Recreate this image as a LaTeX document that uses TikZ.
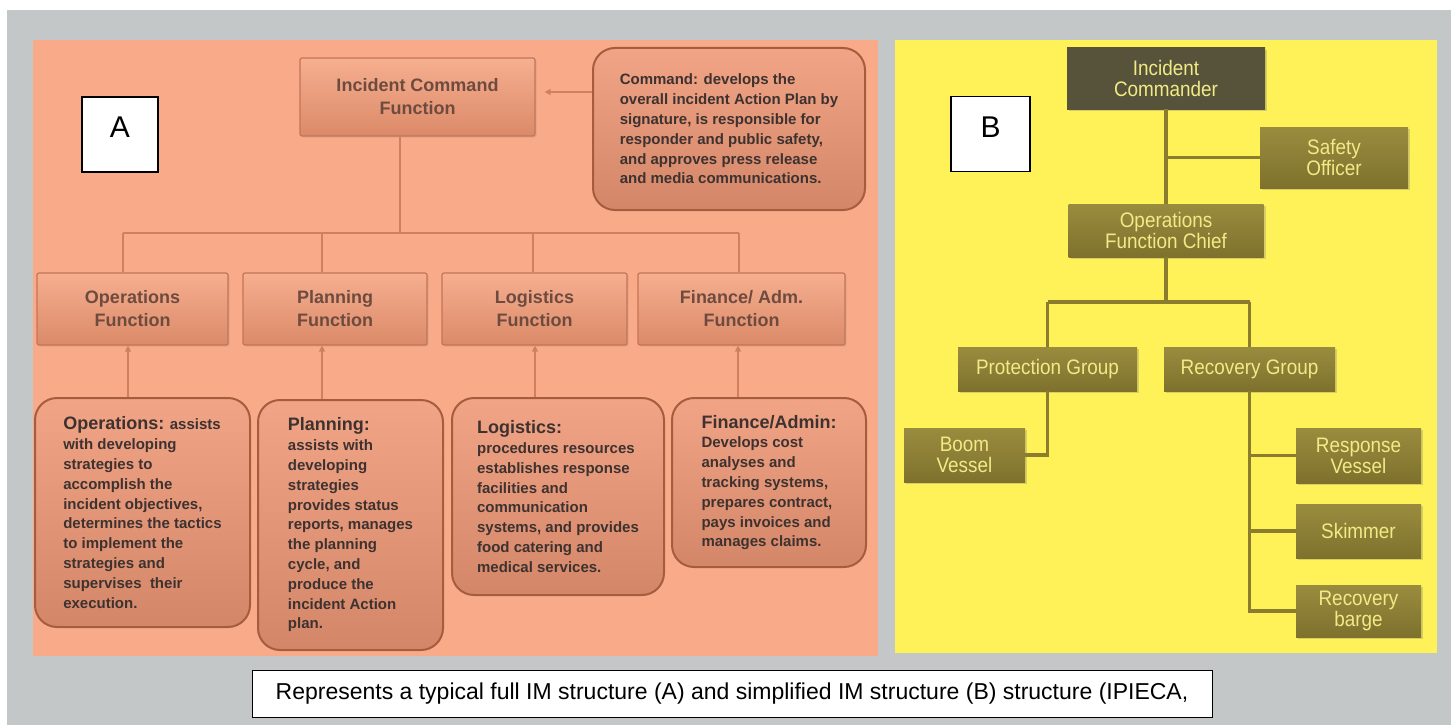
\documentclass[tikz,border=0pt]{standalone}
\usepackage{fontspec}
\setmainfont{Liberation Sans}
\newfontfamily\narrowsans[FakeStretch=0.9]{Liberation Sans}
\usetikzlibrary{arrows.meta,shadows,calc}

\definecolor{framegrey}{HTML}{C4C7C7}
\definecolor{salmonbg}{HTML}{F9AB89}
\definecolor{yellowbg}{HTML}{FFF258}
\definecolor{fntop}{HTML}{F6AF90}
\definecolor{fnbot}{HTML}{DB8A68}
\definecolor{fnedge}{HTML}{C47556}
\definecolor{fntext}{HTML}{6E4B3F}
\definecolor{desctop}{HTML}{F1A486}
\definecolor{descbot}{HTML}{D38768}
\definecolor{descedge}{HTML}{A65D3E}
\definecolor{desctext}{HTML}{3E3230}
\definecolor{aline}{HTML}{D0805F}
\definecolor{bline}{HTML}{8C7C2E}
\definecolor{olivetop}{HTML}{9A8C3E}
\definecolor{olivebot}{HTML}{7E712D}
\definecolor{darkedge}{HTML}{56533A}
\definecolor{darkmid}{HTML}{787044}
\definecolor{btext}{HTML}{F2EA86}

\begin{document}
\begin{tikzpicture}[x=1pt,y=-1pt,
  fnbox/.style={draw=fnedge, line width=1.2pt, rounded corners=2pt,
    top color=fntop, bottom color=fnbot,
    drop shadow={opacity=0.2,shadow xshift=1.5pt,shadow yshift=-1.5pt},
    font=\fontsize{18}{23}\selectfont\bfseries, text=fntext,
    align=center, inner sep=0pt},
  descbox/.style={draw=descedge, line width=2pt, rounded corners=22pt,
    top color=desctop, bottom color=descbot,
    font=\fontsize{15}{19.8}\selectfont\bfseries, text=desctext,
    align=left, inner sep=0pt},
  olivebox/.style={top color=olivetop, bottom color=olivebot,
    drop shadow={opacity=0.3,shadow xshift=2pt,shadow yshift=-2pt},
    font=\narrowsans\fontsize{21}{21}\selectfont, text=btext,
    align=center, inner sep=0pt},
  darkbox/.style={olivebox, left color=darkedge, middle color=darkmid,
    right color=darkedge},
  letterbox/.style={draw=black, line width=1.5pt, fill=white, inner sep=0pt,
    minimum width=#1, minimum height=75pt},
  letter/.style={font=\fontsize{30}{30}\selectfont, text=black, inner sep=0pt},
  aconn/.style={draw=aline, line width=1.3pt},
  aarrow/.style={aconn, -{Triangle[width=6pt,length=6pt]}},
  bconn/.style={draw=bline, line width=3.5pt, line join=miter}
]
\useasboundingbox (0,0) rectangle (1451,725);
\fill[white] (0,0) rectangle (1451,725);

% grey frame and the two panels
\fill[framegrey] (7,10) rectangle (1451,725);
\fill[salmonbg] (33,40) rectangle (878,656);
\fill[yellowbg] (895,40) rectangle (1437,653);

% ---------- panel A: full structure ----------
\node[letterbox=76pt] (aframe) at (120,134.5) {};
\node[letter] (aletter) at (120,127) {A};

\node[fnbox, minimum width=235pt, minimum height=78pt] (icf) at (417.5,97)
  {Incident Command\\Function};

\node[descbox, minimum width=272pt, minimum height=162pt] (cmd) at (729,129)
  {Command: develops the\\overall incident Action Plan by\\signature, is responsible for\\responder and public safety,\\and approves press release\\and media communications.};

\node[fnbox, minimum width=191pt, minimum height=72pt] (fops) at (132.5,309)
  {Operations\\Function};
\node[fnbox, minimum width=184pt, minimum height=72pt] (fpla) at (335,309)
  {Planning\\Function};
\node[fnbox, minimum width=185pt, minimum height=72pt] (flog) at (534.5,309)
  {Logistics\\Function};
\node[fnbox, minimum width=207pt, minimum height=72pt] (ffin) at (741.5,309)
  {Finance/ Adm.\\Function};

\node[descbox, minimum width=215pt, minimum height=229pt] (dops) at (142.5,512.5)
  {{\fontsize{18}{19.8}\selectfont Operations:} assists\\with developing\\strategies to\\accomplish the\\incident objectives,\\determines the tactics\\to implement the\\strategies and\\supervises\ \ their\\execution.};
\node[descbox, minimum width=185pt, minimum height=250pt] (dpla) at (350.5,525)
  {{\fontsize{18}{19.8}\selectfont Planning:}\\assists with\\developing\\strategies\\provides status\\reports, manages\\the planning\\cycle, and\\produce the\\incident Action\\plan.};
\node[descbox, minimum width=212pt, minimum height=197pt] (dlog) at (558,496.5)
  {{\fontsize{18}{19.8}\selectfont Logistics:}\\procedures resources\\establishes response\\facilities and\\communication\\systems, and provides\\food catering and\\medical services.};
\node[descbox, minimum width=194pt, minimum height=169pt] (dfin) at (769,482.5)
  {{\fontsize{18}{19.8}\selectfont Finance/Admin:}\\Develops cost\\analyses and\\tracking systems,\\prepares contract,\\pays invoices and\\manages claims.};

% tree connectors of panel A
\coordinate (dc) at (400,233);
\coordinate (d1) at (123,233);
\coordinate (d2) at (322,233);
\coordinate (d3) at (533,233);
\coordinate (d4) at (739,233);
\draw[aconn] (icf.south -| dc) -- (dc);
\draw[aconn] (d1) -- (d4);
\foreach \d/\n in {d1/fops,d2/fpla,d3/flog,d4/ffin}
  \draw[aconn] (\d) -- (\n.north -| \d);

% description boxes feeding their functions
\coordinate (u1) at (128,0);
\coordinate (u2) at (322,0);
\coordinate (u3) at (535,0);
\coordinate (u4) at (738,0);
\draw[aarrow] (dops.north -| u1) -- (fops.south -| u1);
\draw[aarrow] (dpla.north -| u2) -- (fpla.south -| u2);
\draw[aarrow] (dlog.north -| u3) -- (flog.south -| u3);
\draw[aarrow] (dfin.north -| u4) -- (ffin.south -| u4);

\coordinate (ca) at (0,92);
\draw[aarrow, shorten >=9pt] (cmd.west |- ca) -- (icf.east |- ca);

% ---------- panel B: simplified structure ----------
\node[letterbox=79pt] (bframe) at (990.5,134) {};
\node[letter] (bletter) at (990.5,127) {B};

\node[darkbox, minimum width=198pt, minimum height=61pt] (bic) at (1166,78.5)
  {Incident\\Commander};
\node[olivebox, minimum width=148pt, minimum height=61pt] (bsafe) at (1334,157.5)
  {Safety\\Officer};
\node[olivebox, minimum width=195pt, minimum height=53pt] (bofc) at (1166,230.5)
  {Operations\\Function Chief};
\node[olivebox, minimum width=179pt, minimum height=44pt] (bprot) at (1047.5,369)
  {Protection Group};
\node[olivebox, minimum width=171pt, minimum height=44pt] (brec) at (1249.5,369)
  {Recovery Group};
\node[olivebox, minimum width=121pt, minimum height=54pt] (bboom) at (964.5,455)
  {Boom\\Vessel};
\node[olivebox, minimum width=125pt, minimum height=55pt] (bresp) at (1358.5,455.5)
  {Response\\Vessel};
\node[olivebox, minimum width=125pt, minimum height=54pt] (bskim) at (1358.5,531)
  {Skimmer};
\node[olivebox, minimum width=125pt, minimum height=52pt] (bbarge) at (1358.5,611)
  {Recovery\\barge};

\coordinate (bbus) at (0,302);
\draw[bconn] (bic.south) -- (bofc.north);
\draw[bconn] (bic.south |- bsafe.west) -- (bsafe.west);
\draw[bconn] (bofc.south) -- (bofc.south |- bbus);
\draw[bconn] (bprot.north |- bbus) -- (brec.north |- bbus);
\draw[bconn] (bprot.north |- bbus) -- (bprot.north);
\draw[bconn] (brec.north |- bbus) -- (brec.north);
\draw[bconn] (bprot.south) |- (bboom.east);
\draw[bconn] (brec.south) |- (bbarge.west);
\draw[bconn] (brec.south |- bresp.west) -- (bresp.west);
\draw[bconn] (brec.south |- bskim.west) -- (bskim.west);

% ---------- caption ----------
\node[draw=black, line width=1pt, fill=white, minimum width=960pt,
  minimum height=47pt, inner sep=0pt,
  font=\fontsize{23}{23}\selectfont] (caption) at (732,694)
  {Represents a typical full IM structure (A) and simplified IM structure (B) structure (IPIECA,};
\end{tikzpicture}
\end{document}
